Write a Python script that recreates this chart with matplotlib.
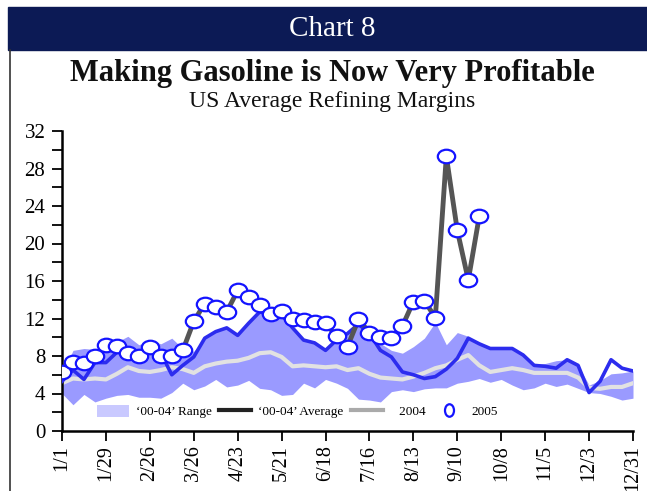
import numpy as np
import matplotlib
matplotlib.use("Agg")
import matplotlib.pyplot as plt
from matplotlib.lines import Line2D
from matplotlib.patches import Patch, Rectangle
from matplotlib.path import Path

# weekly refining margins, $/bbl (week 0 = 1/1 ... week 52 = 12/31)
tick_labels = ["1/1", "1/29", "2/26", "3/26", "4/23", "5/21", "6/18",
               "7/16", "8/13", "9/10", "10/8", "11/5", "12/3", "12/31"]

range_hi = [6.0, 8.6, 8.8, 8.7, 9.0, 9.5, 10.1, 9.2, 9.7, 9.3, 9.9, 8.8, 8.5,
            9.9, 10.6, 11.0, 10.2, 11.5, 12.7, 12.4, 12.4, 11.0, 9.7, 9.4, 8.6,
            9.7, 10.4, 11.4, 10.4, 9.35, 8.6, 8.3, 9.0, 9.9, 11.6, 9.2, 10.5,
            10.1, 9.3, 8.9, 8.9, 8.8, 8.3, 7.1, 7.2, 7.5, 7.6, 7.0, 4.9, 5.4,
            6.1, 6.2, 6.4]
range_lo = [4.0, 2.8, 3.9, 3.1, 3.5, 3.8, 3.9, 3.6, 3.6, 3.5, 4.1, 5.1, 4.4,
            4.8, 5.5, 4.7, 4.9, 5.4, 4.55, 4.4, 3.8, 3.9, 5.1, 4.6, 5.5, 5.1,
            4.55, 3.4, 3.3, 3.1, 4.2, 4.4, 4.2, 4.5, 4.6, 4.6, 5.1, 5.3, 5.6,
            5.2, 5.5, 4.9, 4.4, 4.6, 5.1, 4.75, 5.0, 4.55, 4.1, 4.0, 3.7, 3.3,
            3.5]
avg_00_04 = [5.1, 5.6, 5.5, 5.6, 5.5, 6.1, 6.8, 6.4, 6.3, 6.5, 6.8, 6.6, 6.2,
             6.9, 7.2, 7.4, 7.5, 7.8, 8.3, 8.4, 7.9, 6.9, 7.0, 6.9, 6.8, 6.9,
             6.5, 6.7, 6.1, 5.7, 5.6, 5.5, 5.8, 6.2, 6.7, 7.0, 7.6, 8.1, 7.0,
             6.3, 6.5, 6.7, 6.5, 6.2, 6.2, 6.2, 6.2, 5.7, 4.6, 4.5, 4.7, 4.7,
             5.1]
y2004 = [5.3, 6.5, 5.5, 7.3, 7.3, 8.4, 8.3, 7.9, 8.5, 8.3, 6.0, 7.0, 7.9, 9.9,
         10.6, 11.0, 10.2, 11.5, 12.7, 12.4, 12.4, 11.0, 9.7, 9.4, 8.6, 9.7,
         10.4, 11.4, 10.4, 8.6, 7.9, 6.3, 6.0, 5.6, 5.8, 6.6, 7.75, 9.9, 9.3,
         8.8, 8.8, 8.8, 8.1, 7.0, 6.9, 6.7, 7.6, 7.0, 4.1, 5.3, 7.6, 6.7, 6.4]
y2005 = [6.3, 7.4, 7.3, 8.0, 9.2, 9.1, 8.3, 8.0, 9.0, 8.0, 8.0, 8.6, 11.7,
         13.6, 13.2, 12.7, 15.0, 14.3, 13.4, 12.5, 12.8, 12.0, 11.8, 11.6,
         11.5, 10.1, 9.0, 11.9, 10.5, 10.0, 9.9, 11.2, 13.8, 13.9, 12.1, 29.3,
         21.4, 16.1, 22.9]

SERIF = ["Liberation Serif", "DejaVu Serif"]
plt.rcParams["font.family"] = SERIF

BAND = "#9a9aff"
BAND_LEGEND = "#c9c9ff"
BLUE = "#2c2cee"
MARKER_EDGE = "#1414ff"
DARK = "#555555"
AVG = "#e2e2e2"
NAVY = "#0c1a55"


def ellipse_marker(sx, sy):
    circ = Path.unit_circle()
    return Path(circ.vertices * np.array([sx, sy]), circ.codes)


weeks = np.arange(len(range_hi))
weeks05 = np.arange(len(y2005))

fig = plt.figure(figsize=(6.47, 4.91), dpi=100)

# banner and left border
fig.patches.append(Rectangle((8 / 647, 1 - 50 / 491), 1 - 8 / 647, 43 / 491,
                             transform=fig.transFigure, color=NAVY, zorder=0))
fig.lines.append(Line2D([10 / 647, 10 / 647], [0, 1 - 50 / 491],
                        transform=fig.transFigure, color="#333333", lw=1.2))
fig.text(0.513, 1 - 29 / 491, "Chart 8", color="white", fontsize=21,
         ha="center", va="center")
fig.text(0.513, 1 - 74 / 491, "Making Gasoline is Now Very Profitable",
         fontsize=22, fontweight="bold", ha="center", va="center", color="#111111")
fig.text(0.513, 1 - 102 / 491, "US Average Refining Margins", fontsize=17,
         ha="center", va="center", color="#111111")

ax = fig.add_axes([62 / 647, 1 - 431 / 491, (633 - 62) / 647, 300 / 491])

ax.fill_between(weeks, range_lo, range_hi, color=BAND, lw=0, zorder=1)
ax.plot(weeks, avg_00_04, color=AVG, lw=3, zorder=2)
ax.plot(weeks, y2004, color=BLUE, lw=2.6, zorder=3)
ax.plot(weeks05, y2005, color=DARK, lw=3.5, zorder=4)
ax.plot(weeks05, y2005, ls="none", marker=ellipse_marker(1.0, 0.78), ms=12.5,
        mfc="white", mec=MARKER_EDGE, mew=1.6, zorder=5)

ax.set_xlim(0, 52)
ax.set_ylim(0, 32)
ax.set_xticks(np.arange(0, 53, 4))
ax.set_xticklabels(tick_labels, rotation=90, fontsize=14.5)
ax.set_yticks(np.arange(0, 33, 4))
ax.set_yticks(np.arange(0, 33, 2), minor=True)
ax.tick_params(axis="y", which="both", direction="out", length=7, width=1.3,
               labelsize=15, pad=5)
ax.tick_params(axis="x", direction="out", length=7, width=1.3, pad=3)
for side in ("top", "right"):
    ax.spines[side].set_visible(False)
for side in ("left", "bottom"):
    ax.spines[side].set_linewidth(1.8)

handles = [
    Patch(facecolor=BAND_LEGEND, edgecolor="none"),
    Line2D([], [], color="#222222", lw=3),
    Line2D([], [], color="#aaaaaa", lw=3),
    Line2D([], [], ls="none", marker=ellipse_marker(0.72, 1.0), ms=9,
           mfc="none", mec=MARKER_EDGE, mew=1.6),
]
labels = ["\u201800-04\u2019 Range", "\u201800-04\u2019 Average", "   2004", "2005"]
ax.legend(handles, labels, loc="center", bbox_to_anchor=(0.413, 0.065), ncol=4,
          frameon=False, fontsize=9.5, handlelength=2.4, handleheight=1.0,
          handletextpad=0.5, columnspacing=0.6, borderpad=0)

fig.savefig("out.png", dpi=100)
